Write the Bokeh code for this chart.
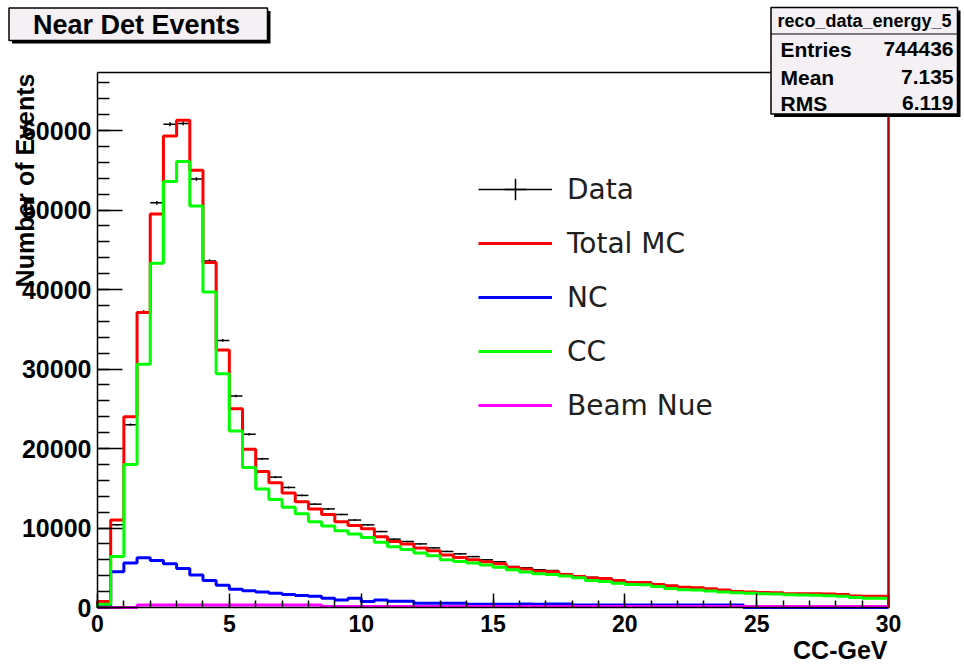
import numpy as np
from bokeh.plotting import figure
from bokeh.models import (Range1d, FixedTicker, Label, BoxAnnotation, Legend, LegendItem, LinearAxis)
from bokeh.embed import file_html
from bokeh.resources import INLINE

# ---------------- data (0.5 GeV bins from 0 to 30) ----------------
bin_edges = np.arange(0.0, 30.0001, 0.5)

total_mc = [760, 11000, 24000, 37100, 49500, 59300, 61300, 55000, 43400, 32400,
            25000, 19900, 17100, 15700, 14400, 13300, 12400, 11700, 10800, 10300,
            9900, 8900, 8300, 8000, 7500, 7150, 6600, 6300, 6000, 5750,
            5500, 5050, 4850, 4550, 4500, 4150, 3900, 3700, 3650, 3400,
            3150, 3150, 2900, 2750, 2550, 2500, 2350, 2200, 2000, 1950,
            1880, 1850, 1720, 1720, 1720, 1700, 1620, 1450, 1430, 1420]

cc = [400, 6400, 18000, 30600, 43300, 53600, 56100, 50500, 39700, 29400,
      22200, 17600, 14900, 13600, 12600, 11800, 10800, 10250, 9650, 9250,
      8800, 8200, 7650, 7300, 6850, 6500, 6000, 5800, 5600, 5350,
      5050, 4750, 4450, 4250, 4150, 3950, 3750, 3400, 3260, 3050,
      2900, 2850, 2640, 2400, 2220, 2200, 2080, 1950, 1850, 1780,
      1720, 1700, 1600, 1570, 1540, 1480, 1420, 1250, 1170, 1150]

nc = [100, 4500, 5600, 6250, 5900, 5500, 4900, 4100, 3400, 2800,
      2300, 2100, 1950, 1800, 1650, 1500, 1400, 1150, 950, 1150,
      750, 950, 800, 800, 550, 550, 550, 550, 400, 400,
      400, 400, 450, 400, 450, 450, 300, 300, 300, 300,
      300, 300, 300, 300, 300, 300, 300, 300, 300, 0,
      0, 0, 0, 0, 0, 0, 0, 0, 0, 0]

beam_nue = [0, 0, 0, 300, 300, 300, 300, 300, 300, 300,
            300, 300, 300, 300, 300, 300, 300, 120, 120, 120,
            120, 120, 120, 120, 120, 120, 120, 120, 120, 120,
            120, 120, 120, 120, 120, 120, 120, 120, 120, 120,
            120, 120, 120, 120, 120, 120, 120, 120, 120, 120,
            120, 120, 120, 120, 120, 120, 120, 120, 120, 120]

data = [600, 10400, 23000, 37200, 50900, 60800, 60900, 53900, 43600, 33600,
        26600, 21800, 18700, 16400, 15100, 14100, 13000, 12400, 11700, 11000,
        10400, 9550, 8600, 8300, 8000, 7500, 7050, 6750, 6400, 6000,
        5750, 5150, 5000, 4750, 4650, 4250, 4000, 3800, 3650, 3400,
        3150, 3150, 2900, 2750, 2550, 2500, 2350, 2200, 2000, 1950,
        1880, 1850, 1720, 1720, 1720, 1700, 1620, 1450, 1430, 1420]

x_ticks = [0, 5, 10, 15, 20, 25, 30]
y_ticks = [0, 10000, 20000, 30000, 40000, 50000, 60000]
x_max, y_max = 30, 67300

title_text = "Near Det Events"
stats_name = "reco_data_energy_5"
stats_rows = [("Entries", "744436"), ("Mean", "7.135"), ("RMS", "6.119")]
x_title = "CC-GeV"
y_title = "Number of Events"

# ---------------- layout (pixels in the 964x664 canvas) ----------------
W, H = 964, 664
FL, FR, FT, FB = 97, 888, 72, 607          # where the axes frame lies on the canvas
sx_per = (FR - FL) / x_max
sy_per = (FB - FT) / y_max
xr = Range1d(-FL / sx_per, (W - FL) / sx_per)
yr = Range1d(-(H - FB) / sy_per, FB / sy_per)

p = figure(width=W, height=H, output_backend="svg", toolbar_location=None,
           x_range=xr, y_range=yr, min_border=0,
           min_border_left=0, min_border_right=0, min_border_top=0, min_border_bottom=0,
           x_axis_location=None, y_axis_location=None)
p.background_fill_color = "white"
p.border_fill_color = "white"
p.outline_line_color = None
p.xgrid.visible = False
p.ygrid.visible = False


def style_axis(ax):
    ax.axis_line_color = "black"
    ax.axis_line_width = 1.5
    ax.major_tick_line_color = "black"
    ax.minor_tick_line_color = "black"
    ax.major_tick_line_width = 1.5
    ax.minor_tick_line_width = 1.5
    ax.major_tick_out = 0
    ax.minor_tick_out = 0
    ax.major_label_text_font = "Liberation Sans"
    ax.major_label_text_font_style = "bold"
    ax.major_label_text_color = "black"


xaxis = LinearAxis(fixed_location=0, bounds=(0, x_max),
                   ticker=FixedTicker(ticks=x_ticks, minor_ticks=list(range(0, 31))))
style_axis(xaxis)
xaxis.major_tick_in = 14
xaxis.minor_tick_in = 7
xaxis.major_label_standoff = 7
xaxis.major_label_text_font_size = "23px"
p.add_layout(xaxis, "below")

yaxis = LinearAxis(fixed_location=0, bounds=(0, y_max),
                   ticker=FixedTicker(ticks=y_ticks, minor_ticks=list(range(0, 67000, 2000))))
style_axis(yaxis)
yaxis.major_tick_in = 25
yaxis.minor_tick_in = 12
yaxis.major_label_standoff = 6
yaxis.major_label_text_font_size = "25px"
p.add_layout(yaxis, "left")

# top frame edge
top_axis = LinearAxis(fixed_location=y_max, bounds=(0, x_max), ticker=FixedTicker(ticks=[]),
                      axis_line_color="black", axis_line_width=1.5,
                      major_label_text_alpha=0, major_tick_line_alpha=0, minor_tick_line_alpha=0)
p.add_layout(top_axis, "above")


def step_path(vals):
    xs, ys = [bin_edges[0]], [0]
    for i, v in enumerate(vals):
        xs += [bin_edges[i], bin_edges[i + 1]]
        ys += [v, v]
    xs.append(bin_edges[-1])
    ys.append(0)
    return xs, ys


lefts = bin_edges[:-1]
rights = bin_edges[1:]
centers = (lefts + rights) / 2
dv = np.array(data, dtype=float)
err = np.sqrt(dv)

# data crosses (drawn underneath the MC lines)
r_dh = p.segment(x0=lefts, x1=rights, y0=dv, y1=dv, line_color="black", line_width=1.5)
r_dv = p.segment(x0=centers, x1=centers, y0=dv - err, y1=dv + err, line_color="black", line_width=1.5)
r_dm = p.scatter(x=centers, y=dv, marker="cross", size=20, line_color="black", line_width=1.5, visible=False)

lw = 3
xs, ys = step_path(total_mc)
r_tot = p.line(xs, ys, line_color="#ff0000", line_width=lw)
xs, ys = step_path(nc)
r_nc = p.line(xs, ys, line_color="#0000ff", line_width=lw)
xs, ys = step_path(cc)
r_cc = p.line(xs, ys, line_color="#00ff00", line_width=lw)
xs, ys = step_path(beam_nue)
r_nue = p.line(xs, ys, line_color="#ff00ff", line_width=lw)

# right frame edge (coloured like the histogram edge)
right_axis = LinearAxis(fixed_location=x_max, bounds=(0, y_max), ticker=FixedTicker(ticks=[]),
                        axis_line_color="#b00000", axis_line_width=2.5,
                        major_label_text_alpha=0, major_tick_line_alpha=0, minor_tick_line_alpha=0)
p.add_layout(right_axis, "right")

legend = Legend(items=[
    LegendItem(label="Data", renderers=[r_dh, r_dm]),
    LegendItem(label="Total MC", renderers=[r_tot]),
    LegendItem(label="NC", renderers=[r_nc]),
    LegendItem(label="CC", renderers=[r_cc]),
    LegendItem(label="Beam Nue", renderers=[r_nue]),
], location=(478, H - 432), orientation="vertical",
    background_fill_alpha=0, border_line_alpha=0, padding=0, margin=0, spacing=0,
    glyph_width=74, glyph_height=54, label_height=54, label_standoff=15,
    label_text_font="DejaVu Sans", label_text_font_size="28px", label_text_color="#202020",
    click_policy="none")
p.add_layout(legend)


def sy(y_top):
    return H - y_top


def box(l, r, t, b, fill, line_color=None, line_width=0):
    p.add_layout(BoxAnnotation(left=l, right=r, top=sy(t), bottom=sy(b),
                               left_units="screen", right_units="screen",
                               top_units="screen", bottom_units="screen",
                               fill_color=fill, fill_alpha=1,
                               line_color=line_color, line_width=line_width,
                               line_alpha=1 if line_color else 0))


def label(x, y_top, text, size, align="left", angle=0.0, bold=True):
    p.add_layout(Label(x=x, y=sy(y_top), x_units="screen", y_units="screen", text=text,
                       angle=angle, text_font="Liberation Sans",
                       text_font_style="bold" if bold else "normal",
                       text_font_size=size, text_align=align, text_baseline="middle",
                       text_color="black"))


# title pave
box(11.5, 270, 10.5, 43, "black")
box(8.5, 267, 7.5, 40, "#f4f0f4", "black", 1.5)
label(136, 24, title_text, "27px", "center")

# stats box
box(773.5, 960, 10, 116.5, "black")
box(770.5, 957, 7, 113.5, "#f4f0f4", "black", 1.5)
box(770.5, 957, 33, 34, "black")
label(864, 20, stats_name, "18px", "center")
for (k, v), yc in zip(stats_rows, [48.5, 76.5, 102.5]):
    label(780, yc, k, "21px", "left")
    label(953, yc, v, "21px", "right")

# axis titles
label(887, 649, x_title, "25px", "right")
label(24, 73, y_title, "25px", "right", angle=np.pi / 2)

open("out.html", "w").write(file_html(p, INLINE))
